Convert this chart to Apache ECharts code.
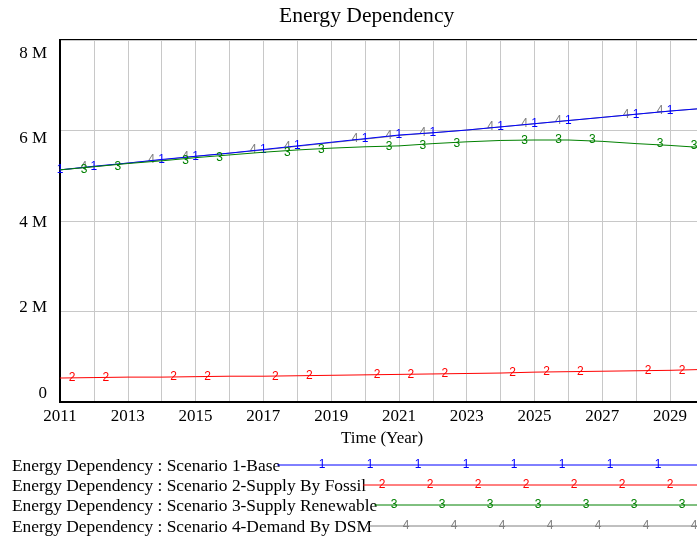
<!DOCTYPE html>
<html>
<head>
<meta charset="utf-8">
<script src="https://cdn.jsdelivr.net/npm/echarts@6/dist/echarts.min.js"></script>
<style>
  html, body { margin: 0; padding: 0; background: #fff; }
  #chart { width: 697px; height: 537px; }
</style>
</head>
<body>
<div id="chart"></div>
<script>
// values in millions, one point per year
const years = [2011, 2012, 2013, 2014, 2015, 2016, 2017, 2018, 2019, 2020,
               2021, 2022, 2023, 2024, 2025, 2026, 2027, 2028, 2029, 2030]
const base = [5.13, 5.21, 5.28, 5.36, 5.43, 5.50, 5.58, 5.66, 5.74, 5.82,
              5.90, 5.95, 6.01, 6.08, 6.15, 6.22, 6.29, 6.36, 6.43, 6.49]
const fossil = [0.53, 0.54, 0.55, 0.55, 0.56, 0.57, 0.57, 0.58, 0.59, 0.60,
                0.61, 0.62, 0.63, 0.64, 0.66, 0.67, 0.68, 0.69, 0.70, 0.72]
const renewable = [5.13, 5.20, 5.27, 5.33, 5.40, 5.46, 5.52, 5.57, 5.61, 5.64,
                   5.66, 5.71, 5.75, 5.78, 5.79, 5.79, 5.76, 5.71, 5.67, 5.62]
const dsm = [5.13, 5.20, 5.28, 5.35, 5.43, 5.50, 5.57, 5.65, 5.73, 5.81,
             5.89, 5.95, 6.01, 6.08, 6.15, 6.22, 6.29, 6.36, 6.43, 6.49]
const yTicks = [0, 2, 4, 6, 8]

const names = [
  'Energy Dependency : Scenario 1-Base',
  'Energy Dependency : Scenario 2-Supply By Fossil',
  'Energy Dependency : Scenario 3-Supply Renewable',
  'Energy Dependency : Scenario 4-Demand By DSM'
]
const colors = ['#0000ff', '#ff0000', '#008000', '#808080']
const tags = ['1', '2', '3', '4']
const markIdx = [0, 1, 3, 4, 6, 7, 9, 10, 11, 13, 14, 15, 17, 18]
const tagShift = [0, 12, 24, -10]

const serif = '"Liberation Serif", "DejaVu Serif", serif'
const sans = '"Liberation Sans", Arial, sans-serif'

function mkSeries(i, vals, z) {
  return {
    name: names[i],
    type: 'line',
    data: years.map((y, k) => [y, vals[k]]),
    symbol: 'circle',
    symbolSize: 0.5,
    showAllSymbol: true,
    z: z,
    lineStyle: { color: colors[i], width: 1 },
    itemStyle: { color: colors[i] },
    label: {
      show: true,
      position: 'inside',
      offset: [tagShift[i], 0],
      color: colors[i],
      fontFamily: sans,
      fontSize: 12,
      formatter: p => (markIdx.includes(p.dataIndex) && !(i === 3 && p.dataIndex === 0)) ? tags[i] : ''
    },
    emphasis: { disabled: true }
  }
}

// legend rows drawn as text + line with tags
const legendFont = '17.4px ' + serif
const ctx = document.createElement('canvas').getContext('2d')
ctx.font = legendFont
const legendY = [465, 485, 505, 526]
const graphics = []
names.forEach((n, i) => {
  const w = ctx.measureText(n).width
  const x0 = 12 + w
  graphics.push({
    type: 'text', x: 12, y: legendY[i] + 1,
    style: { text: n, font: legendFont, fill: '#000', verticalAlign: 'middle' }
  })
  graphics.push({
    type: 'line',
    shape: { x1: x0 - 3, y1: legendY[i], x2: 697, y2: legendY[i] },
    style: { stroke: colors[i], lineWidth: 1 }
  })
  for (let x = 322 + 12 * i; x < 705; x += 48) {
    if (x < x0 + 6) continue
    graphics.push({
      type: 'text', x: x, y: legendY[i],
      style: { text: tags[i], font: '12px ' + sans, fill: colors[i], align: 'center', verticalAlign: 'middle' }
    })
  }
})

// y tick labels sit a little off their grid lines, as in the original
const yl = { fontFamily: serif, fontSize: 17, color: '#000' }
const yRich = {
  t0: Object.assign({ padding: [0, 0, 16, 0] }, yl),
  t2: Object.assign({ padding: [0, 0, 8, 0] }, yl),
  t4: Object.assign({ padding: [4, 0, 0, 0] }, yl),
  t6: Object.assign({ padding: [16, 0, 0, 0] }, yl),
  t8: Object.assign({ padding: [28, 0, 0, 0] }, yl)
}

const chart = echarts.init(document.getElementById('chart'))
chart.setOption({
  animation: false,
  backgroundColor: '#fff',
  title: {
    text: 'Energy Dependency',
    left: 274,
    top: 0,
    textStyle: { fontFamily: serif, fontSize: 21.6, fontWeight: 'normal', color: '#000' }
  },
  grid: {
    left: 60, top: 40, width: 644, height: 362,
    containLabel: false,
    outerBoundsMode: 'none',
    show: true, borderColor: '#000', borderWidth: 2, backgroundColor: 'transparent'
  },
  xAxis: {
    type: 'value',
    min: 2011, max: 2030, interval: 1,
    name: 'Time (Year)',
    nameLocation: 'middle',
    nameGap: 27,
    nameTextStyle: { fontFamily: serif, fontSize: 17, color: '#000' },
    axisLine: { show: true, lineStyle: { color: '#000', width: 2 } },
    axisTick: { show: false },
    axisLabel: {
      fontFamily: serif, fontSize: 17, color: '#000', margin: 6,
      formatter: v => ((v - 2011) % 2 === 0 ? String(v) : '')
    },
    splitLine: { show: true, lineStyle: { color: '#c8c8c8', width: 1 } }
  },
  yAxis: {
    type: 'value',
    min: yTicks[0], max: yTicks[yTicks.length - 1], interval: 2,
    axisLine: { show: true, lineStyle: { color: '#000', width: 2 } },
    axisTick: { show: false },
    axisLabel: {
      fontFamily: serif, fontSize: 17, color: '#000', margin: 13,
      formatter: v => '{t' + v + '|' + (v === 0 ? '0' : v + ' M') + '}',
      rich: yRich
    },
    splitLine: { show: true, lineStyle: { color: '#c8c8c8', width: 1 } }
  },
  graphic: graphics,
  series: [
    mkSeries(3, dsm, 2),
    mkSeries(0, base, 3),
    mkSeries(1, fossil, 3),
    mkSeries(2, renewable, 4)
  ]
})
</script>
</body>
</html>
